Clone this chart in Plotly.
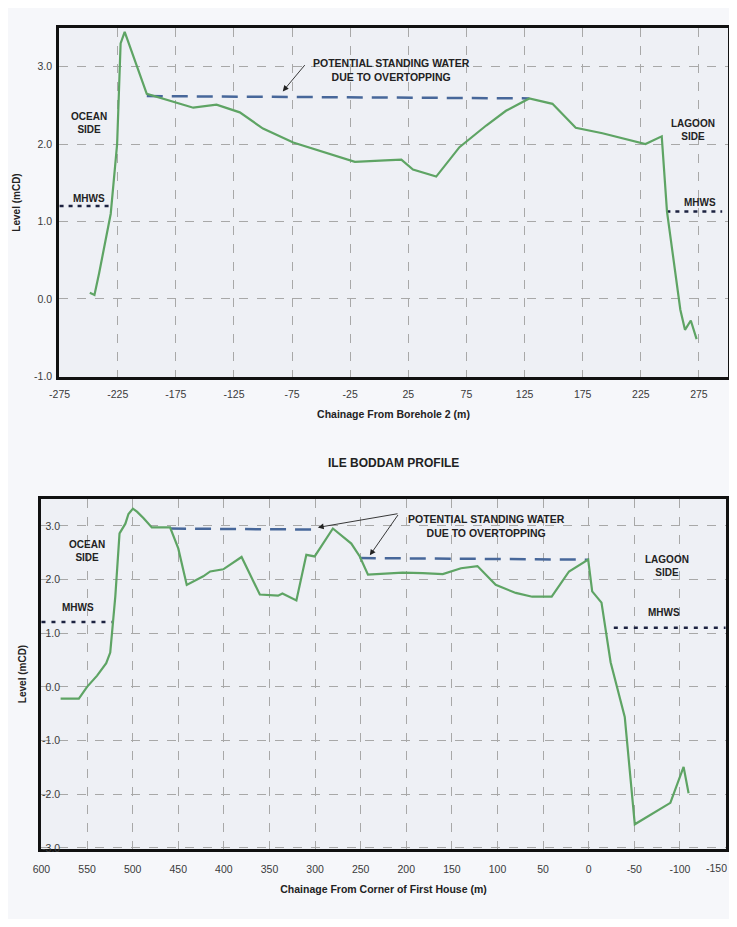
import plotly.graph_objects as go

# ---------------- Top profile data ----------------
top_x = [-249, -245, -241, -231, -225.5, -222.5, -219, -200, -160, -140, -120, -100, -74, -21,
         5, 19, 29, 49, 69, 92, 109, 129, 149, 169, 192, 209, 229, 243, 247.5, 259, 263, 268, 273]
top_y = [0.08, 0.05, 0.33, 1.1, 2.0, 3.3, 3.45, 2.65, 2.47, 2.51, 2.41, 2.2, 2.02, 1.77,
         1.79, 1.8, 1.67, 1.58, 1.96, 2.24, 2.43, 2.59, 2.52, 2.21, 2.14, 2.08, 2.0, 2.1, 1.13, -0.14, -0.4, -0.28, -0.52]
top_water_x = [-200, 129]
top_water_y = [2.62, 2.59]
top_mhws_left_x = [-275, -230]
top_mhws_left_y = [1.2, 1.2]
top_mhws_right_x = [247, 295]
top_mhws_right_y = [1.13, 1.13]
top_xticks = [-275, -225, -175, -125, -75, -25, 25, 75, 125, 175, 225, 275]
top_xticktext = ["-275", "-225", "-175", "-125", "-75", "-25", "25", "75", "125", "175", "225", "275"]
top_yticks = [-1.0, 0.0, 1.0, 2.0, 3.0]
top_yticktext = ["-1.0", "0.0", "1.0", "2.0", "3.0"]

# ---------------- Bottom profile (Ile Boddam) data ----------------
bot_x = [579, 559, 550, 539, 529, 524.6, 519, 514.4, 508, 504.6, 499.7, 495, 488, 479, 459, 450, 440.7,
         422.6, 415, 400.7, 380.6, 360.6, 340.6, 335.8, 320.5, 309.6, 300.5, 280.5, 260.3, 251, 242,
         204, 182, 160, 140, 122, 102, 80, 62, 40.6, 21.6, 0.6, -3.8, -14, -24, -39.5, -50.5, -89.5, -104, -109.5]
bot_y = [-0.22, -0.22, 0.0, 0.21, 0.44, 0.64, 1.69, 2.86, 3.04, 3.22, 3.32, 3.26, 3.14, 2.97, 2.97, 2.58, 1.9,
         2.06, 2.15, 2.19, 2.42, 1.72, 1.70, 1.74, 1.61, 2.46, 2.43, 2.95, 2.67, 2.43, 2.09,
         2.13, 2.12, 2.1, 2.21, 2.25, 1.9, 1.75, 1.68, 1.68, 2.15, 2.37, 1.78, 1.57, 0.46, -0.56, -2.56, -2.16, -1.49, -1.98]
bot_water1_x = [459, 298]
bot_water1_y = [2.95, 2.93]
bot_water2_x = [251, 0.6]
bot_water2_y = [2.40, 2.37]
bot_mhws_left_x = [600, 522.7]
bot_mhws_left_y = [1.21, 1.21]
bot_mhws_right_x = [-27.5, -150]
bot_mhws_right_y = [1.1, 1.1]
bot_xticks = [600, 550, 500, 450, 400, 350, 300, 250, 200, 150, 100, 50, 0, -50, -100, -150]
bot_xticktext = ["600", "550", "500", "450", "400", "350", "300", "250", "200", "150", "100", "50", "0",
                 "-50", "-100", "-150"]
bot_yticks = [-3.0, -2.0, -1.0, 0.0, 1.0, 2.0, 3.0]
bot_yticktext = ["-3.0", "-2.0", "-1.0", "0.0", "1.0", "2.0", "3.0"]

GREEN = "#5ea464"
BLUE = "#47679a"
NAVY = "#1c2240"
GRID = "#a8a8a8"
FONT = "Liberation Sans, Arial, sans-serif"

fig = go.Figure()

def line(x, y, xa, ya, color, width, dash=None):
    fig.add_trace(go.Scatter(x=x, y=y, mode="lines", xaxis=xa, yaxis=ya,
                             line=dict(color=color, width=width, dash=dash),
                             showlegend=False, hoverinfo="skip", cliponaxis=False))

# top
line(top_water_x, top_water_y, "x", "y", BLUE, 2.5, "16px,9px")
line(top_mhws_left_x, top_mhws_left_y, "x", "y", NAVY, 2.5, "4px,5px")
line(top_mhws_right_x, top_mhws_right_y, "x", "y", NAVY, 2.5, "4px,5px")
line(top_x, top_y, "x", "y", GREEN, 2.2)
# bottom
line(bot_water1_x, bot_water1_y, "x2", "y2", BLUE, 2.5, "16px,9px")
line(bot_water2_x, bot_water2_y, "x2", "y2", BLUE, 2.5, "16px,9px")
line(bot_mhws_left_x, bot_mhws_left_y, "x2", "y2", NAVY, 2.5, "4px,6px")
line(bot_mhws_right_x, bot_mhws_right_y, "x2", "y2", NAVY, 2.5, "4px,6px")
line(bot_x, bot_y, "x2", "y2", GREEN, 2.2)

OFF = 8  # page body margin
W, H = 737 - 2 * OFF, 927 - 2 * OFF
def dom_x(a, b):
    return [(a - OFF) / W, (b - OFF) / W]
def dom_y(top, bottom):
    return [1 - (bottom - OFF) / H, 1 - (top - OFF) / H]

axis_common = dict(showline=True, linecolor="#111111", linewidth=2.5, mirror=True,
                   showgrid=True, gridcolor=GRID, griddash="dash", gridwidth=1,
                   zeroline=False, ticks="", automargin=False, tickmode="array",
                   ticklabeloverflow="allow",
                   tickfont=dict(family=FONT, size=10.5, color="#3a3a3a"))

# the last bottom tick label sits at the page edge: draw it as a right-aligned label instead
bot_xticktext_axis = bot_xticktext[:-1] + [""]

fig.update_layout(
    width=W, height=H,
    margin=dict(l=0, r=0, t=0, b=0),
    paper_bgcolor="#f6f7fa",
    plot_bgcolor="#eef0f5",
    font=dict(family=FONT, color="#222222"),
    xaxis=dict(domain=dom_x(59, 728), range=[-275.5, 300], tickvals=top_xticks, ticktext=top_xticktext,
               anchor="y", ticklabelstandoff=6,
               title=dict(text="<b>Chainage From Borehole 2 (m)</b>", font=dict(size=10.5), standoff=12),
               **axis_common),
    yaxis=dict(domain=dom_y(28, 377), range=[-1.01, 3.5], tickvals=top_yticks, ticktext=top_yticktext,
               anchor="x", ticklabelstandoff=2,
               title=dict(text="<b>Level (mCD)</b>", font=dict(size=10), standoff=12),
               **axis_common),
    xaxis2=dict(domain=dom_x(41, 726), range=[600.5, -150.5], tickvals=bot_xticks, ticktext=bot_xticktext_axis,
                anchor="y2", ticklabelstandoff=9,
                title=dict(text="<b>Chainage From Corner of First House (m)</b>", font=dict(size=10.5), standoff=12),
                **axis_common),
    yaxis2=dict(domain=dom_y(499, 849), range=[-3.02, 3.5], tickvals=bot_yticks, ticktext=bot_yticktext,
                anchor="x2", ticklabelstandoff=-24,
                title=dict(text="<b>Level (mCD)</b>", font=dict(size=10), standoff=14),
                **axis_common),
)

fig.add_annotation(x=bot_xticks[-1], y=0, xref="x2", yref="y2 domain", text=bot_xticktext[-1],
                   showarrow=False, xanchor="right", yanchor="top", xshift=3, yshift=-11,
                   font=dict(family=FONT, size=10.5, color="#3a3a3a"))

def text(x, y, t, xa, ya, xanchor="center", size=10):
    fig.add_annotation(x=x, y=y, xref=xa, yref=ya, text="<b>" + t + "</b>", showarrow=False,
                       xanchor=xanchor, font=dict(family=FONT, size=size, color="#222222"))

def arrow(x, y, ax, ay, xa, ya):
    fig.add_annotation(x=x, y=y, ax=ax, ay=ay, xref=xa, yref=ya, axref=xa, ayref=ya, text="",
                       showarrow=True, arrowhead=2, arrowsize=1.3, arrowwidth=0.9, arrowcolor="#222222")

# top annotations
text(-250, 2.27, "OCEAN<br>SIDE", "x", "y")
text(-250, 1.3, "MHWS", "x", "y")
text(-59, 2.96, "POTENTIAL STANDING WATER<br>DUE TO OVERTOPPING", "x", "y", xanchor="left", size=10.5)
arrow(-83, 2.68, -63, 3.04, "x", "y")
text(270, 2.18, "LAGOON<br>SIDE", "x", "y")
text(276, 1.24, "MHWS", "x", "y")

# bottom annotations
fig.add_annotation(x=(393 - OFF) / W, y=1 - (463 - OFF) / H, xref="paper", yref="paper",
                   text="<b>ILE BODDAM PROFILE</b>",
                   showarrow=False, font=dict(family=FONT, size=12, color="#222222"))
text(550, 2.53, "OCEAN<br>SIDE", "x2", "y2")
text(560, 1.47, "MHWS", "x2", "y2")
text(200, 3.0, "POTENTIAL STANDING WATER<br>DUE TO OVERTOPPING", "x2", "y2", xanchor="left", size=10.5)
arrow(297, 2.97, 208, 3.23, "x2", "y2")
arrow(240, 2.45, 208, 3.23, "x2", "y2")
text(-86, 2.25, "LAGOON<br>SIDE", "x2", "y2")
text(-83, 1.38, "MHWS", "x2", "y2")

fig.write_html("out.html")
